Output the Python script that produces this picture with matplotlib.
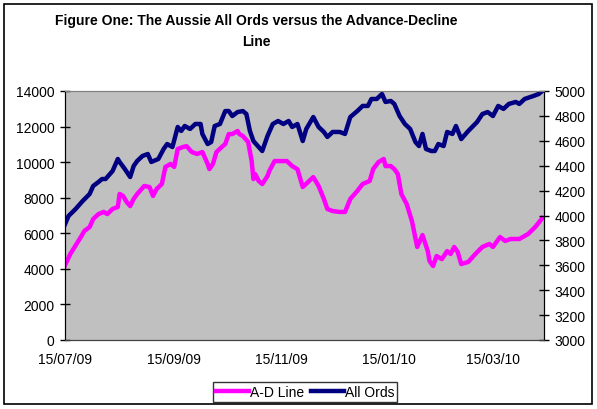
import matplotlib
matplotlib.use("Agg")
import matplotlib.pyplot as plt
import matplotlib.dates as mdates
from matplotlib.patches import Rectangle
import pandas as pd

plt.rcParams["font.family"] = ["Liberation Sans", "DejaVu Sans"]

START = "2009-07-15"
END = "2010-04-13"

# A-D line, days since 15/07/09 and value (left axis)
ad_days = [0, 3, 9, 11, 14, 16, 19, 22, 24, 27, 30, 31, 33, 35, 37, 39, 41, 45,
           48, 50, 52, 55, 57, 60, 62, 64, 67, 69, 72, 75, 78, 81, 82, 84, 86,
           89, 91, 93, 95, 98, 99, 101, 104, 106, 107, 108, 110, 112, 115, 116,
           119, 122, 126, 129, 132, 135, 138, 141, 144, 147, 149, 152, 156, 159,
           162, 166, 169, 173, 175, 178, 181, 182, 185, 187, 189, 191, 194, 197,
           200, 203, 206, 207, 209, 211, 214, 217, 219, 221, 223, 225, 229, 233,
           237, 241, 243, 247, 250, 253, 258, 263, 267, 271]
ad_values = [4200, 4835, 5790, 6130, 6350, 6800, 7080, 7200, 7080, 7365, 7480,
             8210, 8100, 7760, 7530, 7930, 8210, 8660, 8600, 8100, 8490, 8770,
             9730, 9900, 9730, 10740, 10850, 10900, 10570, 10460, 10570, 9900,
             9610, 9900, 10570, 10850, 11020, 11580, 11580, 11750, 11580, 11470,
             11130, 10060, 9050, 9330, 8940, 8770, 9220, 9500, 10060, 10060,
             10060, 9780, 9600, 8600, 8880, 9160, 8660, 7930, 7365, 7250, 7200,
             7200, 7930, 8380, 8770, 8940, 9610, 10000, 10180, 9780, 9780, 9610,
             9330, 8210, 7650, 6690, 5230, 5900, 5000, 4440, 4160, 4720, 4550,
             5000, 4835, 5230, 4950, 4270, 4390, 4835, 5230, 5400, 5230, 5790,
             5570, 5680, 5680, 5960, 6350, 6850]

# All Ords, days since 15/07/09 and index level (right axis)
ords_days = [0, 2, 6, 10, 14, 16, 19, 21, 23, 24, 27, 30, 31, 34, 37, 39, 41,
             44, 47, 49, 53, 56, 58, 61, 64, 66, 68, 71, 74, 77, 78, 81, 83, 85,
             88, 91, 93, 95, 98, 101, 103, 105, 107, 110, 112, 115, 118, 121,
             124, 127, 129, 132, 135, 137, 141, 144, 147, 149, 152, 156, 159,
             162, 166, 169, 172, 174, 177, 180, 182, 185, 187, 190, 193, 196,
             199, 201, 203, 205, 208, 210, 212, 215, 217, 220, 222, 225, 229,
             234, 237, 240, 243, 246, 249, 252, 256, 258, 261, 266, 269, 271]
ords_values = [3930, 3996, 4052, 4116, 4173, 4237, 4269, 4293, 4293, 4309, 4357,
               4454, 4430, 4373, 4309, 4398, 4438, 4478, 4494, 4430, 4454, 4534,
               4574, 4550, 4711, 4679, 4719, 4695, 4735, 4735, 4655, 4574, 4590,
               4719, 4735, 4839, 4839, 4799, 4831, 4839, 4815, 4679, 4598, 4550,
               4518, 4639, 4735, 4759, 4735, 4759, 4711, 4735, 4598, 4695, 4791,
               4711, 4671, 4631, 4671, 4671, 4655, 4791, 4839, 4880, 4880, 4936,
               4936, 4976, 4912, 4920, 4896, 4799, 4735, 4695, 4590, 4558, 4655,
               4534, 4518, 4518, 4574, 4558, 4671, 4655, 4719, 4614, 4679, 4751,
               4815, 4831, 4799, 4880, 4856, 4896, 4912, 4896, 4936, 4960, 4976,
               5000]

tick_dates = ["2009-07-15", "2009-09-15", "2009-11-15", "2010-01-15", "2010-03-15"]

title = "Figure One: The Aussie All Ords versus the Advance-Decline\nLine"

start = pd.Timestamp(START)
ad_dates = start + pd.to_timedelta(ad_days, unit="D")
ords_dates = start + pd.to_timedelta(ords_days, unit="D")

W, H = 597, 410
fig = plt.figure(figsize=(W / 100, H / 100), dpi=100)

# outer chart border
fig.patches.append(Rectangle((4 / W, 1 - 405 / H), 588 / W, 400 / H,
                             transform=fig.transFigure, fill=False,
                             edgecolor="black", linewidth=1.2))

ax = fig.add_axes([65 / W, 1 - 341 / H, 479 / W, 249 / H])
ax.set_facecolor("#C0C0C0")
ax2 = ax.twinx()

l1, = ax.plot(ad_dates, ad_values, color="#FF00FF", lw=3.2, solid_joinstyle="round")
l2, = ax2.plot(ords_dates, ords_values, color="#000080", lw=3.2, solid_joinstyle="round")

ax.set_xlim(pd.Timestamp(START), pd.Timestamp(END))
ax.set_ylim(0, 14000)
ax.set_yticks(range(0, 14001, 2000))
ax2.set_ylim(3000, 5000)
ax2.set_yticks(range(3000, 5001, 200))

ax.set_xticks(pd.to_datetime(tick_dates))
ax.xaxis.set_major_formatter(mdates.DateFormatter("%d/%m/%y"))

ax.tick_params(axis="x", length=0, pad=9, labelsize=10)
ax.tick_params(axis="y", direction="inout", length=7, width=1, pad=4, labelsize=10)
ax2.tick_params(axis="y", direction="inout", length=7, width=1, pad=4, labelsize=10)

for a in (ax, ax2):
    a.spines["top"].set_color("#808080")
    a.spines["left"].set_color("black")
    a.spines["right"].set_color("black")
    a.spines["bottom"].set_color("#404040")

fig.text(256 / W, 1 - 14 / H, title, ha="center", va="top", fontsize=10,
         fontweight="bold", linespacing=1.6)

leg = fig.legend([l1, l2], ["A-D Line", "All Ords"], ncol=2,
                 loc="center", bbox_to_anchor=(305 / W, 1 - 393 / H),
                 fontsize=10, frameon=True, fancybox=False, handlelength=2.4,
                 handletextpad=0.05, columnspacing=0.5, borderpad=0.2,
                 borderaxespad=0)
leg.get_frame().set_edgecolor("black")
leg.get_frame().set_linewidth(1)

fig.savefig("out.png", dpi=100)
